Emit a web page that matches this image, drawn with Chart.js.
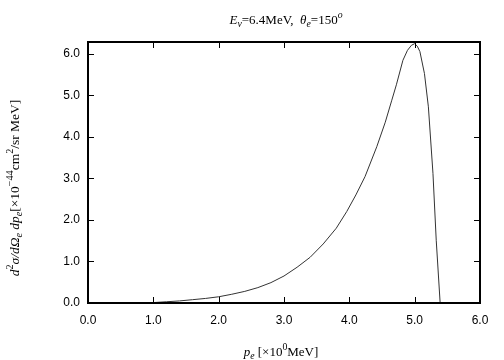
<!DOCTYPE html>
<html>
<head>
<meta charset="utf-8">
<script src="https://cdn.jsdelivr.net/npm/chart.js@4.4.0/dist/chart.umd.min.js"></script>
<style>
  html, body { margin: 0; padding: 0; background: #fff; }
  #wrap { width: 504px; height: 360px; }
</style>
</head>
<body>
<div id="wrap"><canvas id="grafico" width="504" height="360"></canvas></div>
<script>
// momentum of the electron [MeV]
var pe = [0.8, 1.0, 1.2, 1.4, 1.6, 1.8, 2.0, 2.2, 2.4, 2.6, 2.8, 3.0, 3.2, 3.4, 3.6, 3.8,
          3.96, 4.1, 4.24, 4.42, 4.55, 4.65, 4.72, 4.82, 4.89, 4.95, 5.0, 5.04, 5.08, 5.15, 5.21, 5.28, 5.33, 5.39];
// d2sigma / dOmega dpe [x10^-44 cm2/sr MeV]
var xsec = [0.0, 0.01, 0.03, 0.05, 0.08, 0.11, 0.15, 0.21, 0.28, 0.37, 0.49, 0.65, 0.86, 1.1, 1.42, 1.8,
            2.2, 2.6, 3.04, 3.76, 4.35, 4.88, 5.25, 5.84, 6.08, 6.2, 6.24, 6.18, 6.05, 5.52, 4.72, 3.12, 1.51, 0.0];
var xTicks = [0, 1, 2, 3, 4, 5, 6];
var yTicks = [0, 1, 2, 3, 4, 5, 6];

var serif = '"Liberation Serif", "DejaVu Serif", serif';

// draw text made of segments: [text, italic, shift]  (shift: 0, 'sub', 'sup')
function richWidth(ctx, segs, size) {
    var w = 0;
    segs.forEach(function (s) {
        var sz = s[2] ? size * 0.75 : size;
        ctx.font = (s[1] ? 'italic ' : '') + sz + 'px ' + serif;
        w += ctx.measureText(s[0]).width;
    });
    return w;
}
function richText(ctx, segs, size, x, y) {
    var cx = x - richWidth(ctx, segs, size) / 2;
    segs.forEach(function (s) {
        var sz = s[2] ? size * 0.75 : size;
        var dy = s[2] === 'sub' ? size * 0.25 : (s[2] === 'sup' ? -size * 0.45 : 0);
        ctx.font = (s[1] ? 'italic ' : '') + sz + 'px ' + serif;
        ctx.fillText(s[0], cx, y + dy);
        cx += ctx.measureText(s[0]).width;
    });
}

var frame = {
    id: 'frame',
    afterDraw: function (chart) {
        var ctx = chart.ctx, a = chart.chartArea;
        var xs = chart.scales.x, ys = chart.scales.y;
        ctx.save();
        ctx.strokeStyle = '#000';
        ctx.lineWidth = 1;
        ctx.beginPath();
        xTicks.forEach(function (v) {
            var px = Math.round(xs.getPixelForValue(v)) + 0.5;
            ctx.moveTo(px, a.bottom); ctx.lineTo(px, a.bottom - 6);
            ctx.moveTo(px, a.top); ctx.lineTo(px, a.top + 6);
        });
        yTicks.forEach(function (v) {
            var py = Math.round(ys.getPixelForValue(v)) + 0.5;
            ctx.moveTo(a.left, py); ctx.lineTo(a.left + 6, py);
            ctx.moveTo(a.right, py); ctx.lineTo(a.right - 6, py);
        });
        ctx.stroke();
        ctx.lineWidth = 2;
        ctx.strokeRect(a.left, a.top, a.right - a.left, a.bottom - a.top);

        ctx.fillStyle = '#000';
        ctx.textBaseline = 'alphabetic';
        ctx.textAlign = 'left';
        richText(ctx, [['E', true], ['ν', true, 'sub'], ['=6.4MeV,  ', false], ['θ', true], ['e', true, 'sub'],
                       ['=150', false], ['o', true, 'sup']], 13, 286, 24);
        richText(ctx, [['p', true], ['e', true, 'sub'], [' [×10', false], ['0', false, 'sup'], ['MeV]', false]],
                 13, 281, 356);
        ctx.translate(19, 188);
        ctx.rotate(-Math.PI / 2);
        richText(ctx, [['d', true], ['2', false, 'sup'], ['σ/d', true], ['Ω', true], ['e', true, 'sub'],
                       [' dp', true], ['e', true, 'sub'], ['[×10', false], ['−44', false, 'sup'], ['cm', false],
                       ['2', false, 'sup'], ['/sr MeV]', false]], 13.5, 0, 0);
        ctx.restore();
    }
};

var points = pe.map(function (x, i) { return { x: x, y: xsec[i] }; });

var ctx = document.querySelector('#grafico').getContext('2d');
var chart = new Chart(ctx, {
    type: 'scatter',
    data: {
        datasets: [{
            data: points,
            showLine: true,
            borderColor: '#333',
            borderWidth: 1,
            pointRadius: 0,
            tension: 0
        }]
    },
    options: {
        responsive: false,
        animation: false,
        layout: { padding: { left: 0, right: 24, top: 42, bottom: 0 } },
        plugins: { legend: { display: false }, tooltip: { enabled: false } },
        scales: {
            x: {
                min: 0, max: 6,
                afterBuildTicks: function (s) { s.ticks = xTicks.map(function (v) { return { value: v }; }); },
                afterFit: function (s) { s.height = 57; },
                grid: { display: false, drawTicks: false },
                border: { display: false },
                ticks: {
                    padding: 10,
                    color: '#000',
                    font: { family: '"Liberation Sans", Arial, sans-serif', size: 12 },
                    callback: function (v) { return Number(v).toFixed(1); }
                }
            },
            y: {
                min: 0, max: 6.28,
                afterBuildTicks: function (s) { s.ticks = yTicks.map(function (v) { return { value: v }; }); },
                afterFit: function (s) { s.width = 88; },
                grid: { display: false, drawTicks: false },
                border: { display: false },
                ticks: {
                    padding: 8,
                    color: '#000',
                    font: { family: '"Liberation Sans", Arial, sans-serif', size: 12 },
                    callback: function (v) { return Number(v).toFixed(1); }
                }
            }
        }
    },
    plugins: [frame]
});
</script>
</body>
</html>
